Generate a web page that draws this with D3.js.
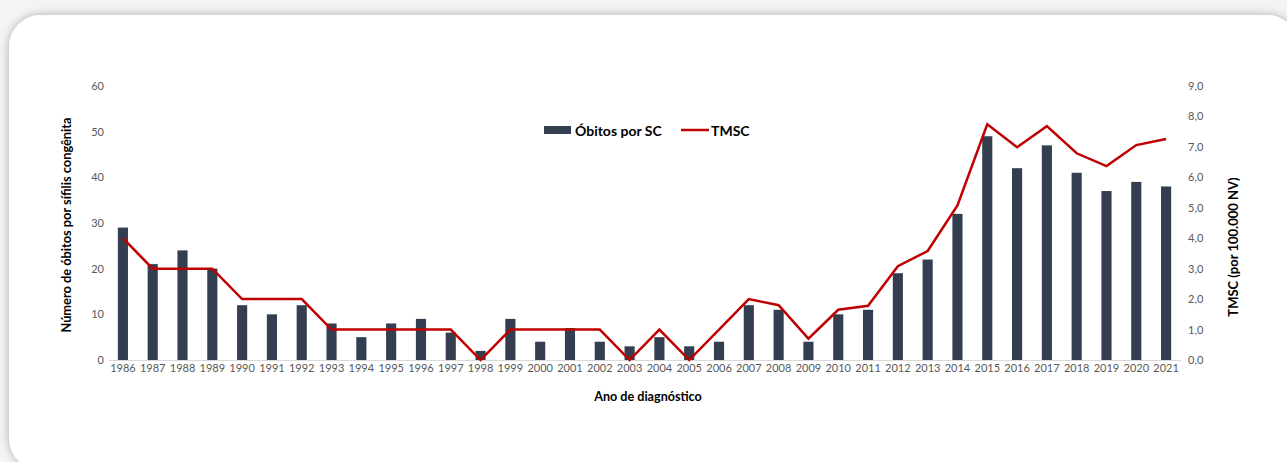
<!DOCTYPE html>
<html>
<head>
<meta charset="utf-8">
<script src="https://cdn.jsdelivr.net/npm/d3@7"></script>
<style>
  body { margin: 0; background: #f4f4f4; overflow: hidden; }
  svg { display: block; font-family: Lato, "Open Sans", sans-serif; }
</style>
</head>
<body>
<div id="chart"></div>
<script>
// data
var years = ['1986','1987','1988','1989','1990','1991','1992','1993','1994','1995','1996','1997',
             '1998','1999','2000','2001','2002','2003','2004','2005','2006','2007','2008','2009',
             '2010','2011','2012','2013','2014','2015','2016','2017','2018','2019','2020','2021']
var obitos = [29,21,24,20,12,10,12,8,5,8,9,6,2,9,4,7,4,3,5,3,4,12,11,4,10,11,19,22,32,49,42,47,41,37,39,38]
var tmsc = [4.0,3.0,3.0,3.0,2.0,2.0,2.0,1.0,1.0,1.0,1.0,1.0,0.0,1.0,1.0,1.0,1.0,0.0,1.0,0.0,1.0,2.0,1.8,0.7,
            1.65,1.78,3.08,3.58,5.08,7.74,6.99,7.68,6.79,6.37,7.06,7.26]
var leftTicks = [0,10,20,30,40,50,60]
var rightTicks = [0,1,2,3,4,5,6,7,8,9]

var W = 1287, H = 462

var svg = d3.select("#chart").append("svg")
  .attr("width", W).attr("height", H)

// card with shadow
var defs = svg.append("defs")
var f = defs.append("filter").attr("id", "shadow")
  .attr("x", "-5%").attr("y", "-10%").attr("width", "110%").attr("height", "120%")
f.append("feDropShadow").attr("dx", 0).attr("dy", 0).attr("stdDeviation", 5)
  .attr("flood-color", "#000").attr("flood-opacity", 0.3)

svg.append("rect")
  .attr("x", 9).attr("y", 15).attr("width", 1290).attr("height", 455)
  .attr("rx", 32).attr("fill", "#fff")
  .attr("filter", "url(#shadow)")

// scales
var x = d3.scaleBand()
  .domain(years)
  .range([108, 1181])
  .paddingInner(0.66)
  .paddingOuter(0.33)

var y = d3.scaleLinear().domain([0, 60]).range([360, 86])
var y2 = d3.scaleLinear().domain([0, 9]).range([360, 86])

// bars
svg.selectAll(".bar")
  .data(obitos)
  .enter()
  .append("rect")
  .attr("x", function(d, i) { return x(years[i]) })
  .attr("y", function(d) { return y(d) })
  .attr("width", x.bandwidth())
  .attr("height", function(d) { return y(0) - y(d) })
  .attr("fill", "#333f50")

// x axis
var xAxis = svg.append("g")
  .attr("transform", "translate(0,360)")
  .call(d3.axisBottom(x).tickSize(0).tickPadding(4))
xAxis.select(".domain").attr("stroke", "#d9d9d9").attr("stroke-width", 1)
xAxis.selectAll("text").attr("fill", "#595959").style("font-size", "11px")
  .style("font-family", "Lato, sans-serif")

// left axis
var yAxis = svg.append("g")
  .attr("transform", "translate(108,0)")
  .call(d3.axisLeft(y).tickValues(leftTicks).tickSize(0).tickPadding(4))
yAxis.select(".domain").remove()
yAxis.selectAll("text").attr("fill", "#595959").style("font-size", "11px")
  .style("font-family", "Lato, sans-serif")

// right axis
var yAxis2 = svg.append("g")
  .attr("transform", "translate(1185,0)")
  .call(d3.axisRight(y2).tickValues(rightTicks).tickSize(0).tickPadding(3)
    .tickFormat(function(d) { return d3.format(".1f")(d).replace(".", ",") }))
yAxis2.select(".domain").remove()
yAxis2.selectAll("text").attr("fill", "#595959").style("font-size", "11px")
  .style("font-family", "Lato, sans-serif")

// line
var line = d3.line()
  .x(function(d, i) { return x(years[i]) + x.bandwidth() / 2 })
  .y(function(d) { return y2(d) })

svg.append("path")
  .datum(tmsc)
  .attr("d", line)
  .attr("fill", "none")
  .attr("stroke", "#c00000")
  .attr("stroke-width", 2.5)
  .attr("stroke-linejoin", "miter")

// axis titles
svg.append("text")
  .attr("transform", "translate(71,225) rotate(-90)")
  .attr("text-anchor", "middle")
  .style("font-size", "12.8px").style("font-weight", "bold")
  .text("Número de óbitos por sífilis congênita")

svg.append("text")
  .attr("transform", "translate(1238,247) rotate(-90)")
  .attr("text-anchor", "middle")
  .style("font-size", "13px").style("font-weight", "bold")
  .text("TMSC (por 100.000 NV)")

svg.append("text")
  .attr("x", 648).attr("y", 401)
  .attr("text-anchor", "middle")
  .style("font-size", "12.6px").style("font-weight", "bold")
  .text("Ano de diagnóstico")

// legend
var leg = svg.append("g")
leg.append("rect").attr("x", 544).attr("y", 126).attr("width", 27).attr("height", 8).attr("fill", "#333f50")
leg.append("text").attr("x", 575).attr("y", 135.5)
  .style("font-size", "14px").style("font-weight", "bold").text("Óbitos por SC")
leg.append("line").attr("x1", 681).attr("x2", 709).attr("y1", 130).attr("y2", 130)
  .attr("stroke", "#c00000").attr("stroke-width", 2.5)
leg.append("text").attr("x", 711).attr("y", 135.5)
  .style("font-size", "14px").style("font-weight", "bold").text("TMSC")
</script>
</body>
</html>
